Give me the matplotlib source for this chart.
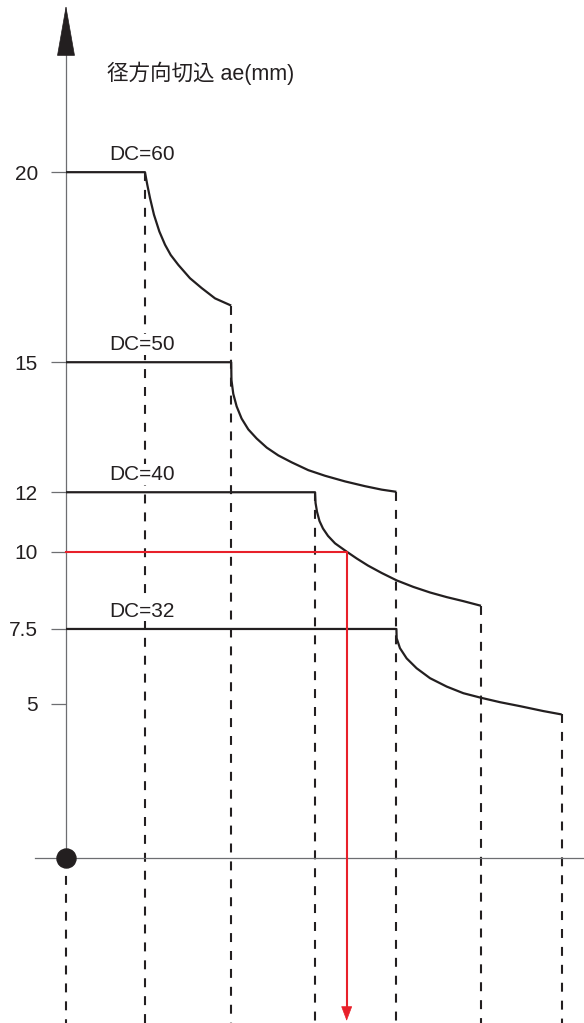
import numpy as np
import matplotlib.pyplot as plt

# ---- data ----
dc_labels = ["DC=60", "DC=50", "DC=40", "DC=32"]

curve_x_60 = [0.956, 0.984, 1.017, 1.065, 1.130, 1.199, 1.268, 1.360, 1.501, 1.643, 1.804, 2.0]
curve_y_60 = [20.0, 19.67, 19.32, 18.88, 18.44, 18.09, 17.82, 17.56, 17.21, 16.95, 16.68, 16.49]

curve_x_50 = [2.0, 2.003, 2.025, 2.066, 2.126, 2.207, 2.308, 2.430, 2.570, 2.732,
              2.933, 3.136, 3.378, 3.620, 3.822, 4.0]
curve_y_50 = [15.0, 14.59, 14.27, 13.98, 13.70, 13.45, 13.24, 13.03, 12.85, 12.69,
              12.51, 12.38, 12.25, 12.14, 12.06, 12.01]

curve_x_40 = [3.015, 3.021, 3.039, 3.069, 3.111, 3.172, 3.257, 3.398, 3.519, 3.656,
              3.822, 4.004, 4.205, 4.407, 4.609, 4.810, 5.024]
curve_y_40 = [12.0, 11.64, 11.34, 11.03, 10.78, 10.53, 10.28, 10.0, 9.78, 9.55,
              9.31, 9.07, 8.86, 8.68, 8.53, 8.40, 8.25]

curve_x_32 = [4.0, 4.003, 4.043, 4.124, 4.245, 4.407, 4.609, 4.810, 5.020, 5.254,
              5.496, 5.778, 6.0]
curve_y_32 = [7.5, 7.19, 6.86, 6.52, 6.19, 5.86, 5.58, 5.36, 5.21, 5.06,
              4.93, 4.77, 4.66]

red_level = 10
red_x = 3.398

y_ticks = [20, 15, 12, 10, 7.5, 5]
y_tick_labels = ["20", "15", "12", "10", "7.5", "5"]

title = "径方向切込 ae(mm)"

# the drawing's vertical axis is not linear: piecewise scale
scale_levels = [-10, 0, 5, 7.5, 10, 12, 15, 20, 30]
scale_px = [-306, 0, 153.7, 228.7, 306, 365.4, 495.4, 685.4, 1065.4]


def fwd(v):
    return np.interp(v, scale_levels, scale_px)


def inv(p):
    return np.interp(p, scale_px, scale_levels)


plt.rcParams['font.family'] = ['Liberation Sans', 'Noto Sans CJK JP']
INK = '#231f20'
GREY = '#6d6e71'
RED = '#e8202a'

fig = plt.figure(figsize=(5.84, 10.23), dpi=100)
ax = fig.add_axes([0, 0, 1, 1])
ax.set_yscale('function', functions=(fwd, inv))
ax.set_xlim(-0.799, 6.271)
y_bottom = -5.40
ax.set_ylim(y_bottom, 24.53)

curves = [(curve_x_60, curve_y_60), (curve_x_50, curve_y_50),
          (curve_x_40, curve_y_40), (curve_x_32, curve_y_32)]

# flat segment from the axis, then the falling curve
for (cx, cy), lab in zip(curves, dc_labels):
    ax.plot([0] + cx, [cy[0]] + cy, color=INK, lw=1.6, solid_capstyle='butt',
            solid_joinstyle='round', zorder=3)
    ax.annotate(lab, xy=(0, cy[0]), xytext=(31, 6), textcoords='offset points',
                fontsize=15, color=INK, ha='left', va='bottom', zorder=5,
                bbox=dict(fc='white', ec='none', pad=0.5))

# dashed drop lines at curve start / end
tops = {}
for cx, cy in curves:
    for xv, yv in [(cx[0], cy[0]), (cx[-1], cy[-1])]:
        key = round(xv, 1)
        if key not in tops or yv > tops[key][1]:
            tops[key] = (xv, yv)
for xv, yv in tops.values():
    ax.plot([xv, xv], [yv, y_bottom], color=INK, lw=1.5, ls=(0, (4.3, 4.3)), zorder=2)
ax.plot([0, 0], [0, y_bottom], color=INK, lw=1.5, ls=(0, (4.3, 4.3)), zorder=2)

# red reading path
ax.plot([0, red_x, red_x], [red_level, red_level, -4.9], color=RED, lw=1.5, zorder=4)
ax.annotate('', xy=(red_x, -5.33), xytext=(red_x, -4.9),
            arrowprops=dict(arrowstyle='-|>,head_length=0.95,head_width=0.36',
                            mutation_scale=10, color=RED, lw=0.5,
                            shrinkA=0, shrinkB=0), zorder=4)

# axes
for s in ['top', 'right']:
    ax.spines[s].set_visible(False)
ax.spines['left'].set_position(('data', 0))
ax.spines['left'].set_bounds(0, 23.3)
ax.spines['bottom'].set_position(('data', 0))
ax.spines['bottom'].set_bounds(-0.375, 6.271)
for s in ['left', 'bottom']:
    ax.spines[s].set_color(GREY)
    ax.spines[s].set_linewidth(0.9)

ax.set_xticks([])
ax.set_yticks(y_ticks, y_tick_labels)
ax.tick_params(axis='y', direction='out', length=10.8, width=0.9, color=GREY,
               pad=9.4, labelsize=15, labelcolor=INK)
ax.yaxis.set_minor_locator(plt.NullLocator())

ax.annotate('', xy=(0, 24.39), xytext=(0, 23.14),
            arrowprops=dict(arrowstyle='-|>,head_length=3.46,head_width=0.61',
                            mutation_scale=10, color=INK, lw=0.5,
                            shrinkA=0, shrinkB=0))

ax.plot(0, 0, 'o', ms=13.7, color=INK, zorder=6, clip_on=False)

ax.text(0.183, 0.9286, title, transform=ax.transAxes, fontsize=15.5,
        color=INK, ha='left', va='center')

fig.savefig('out.png', dpi=100)
